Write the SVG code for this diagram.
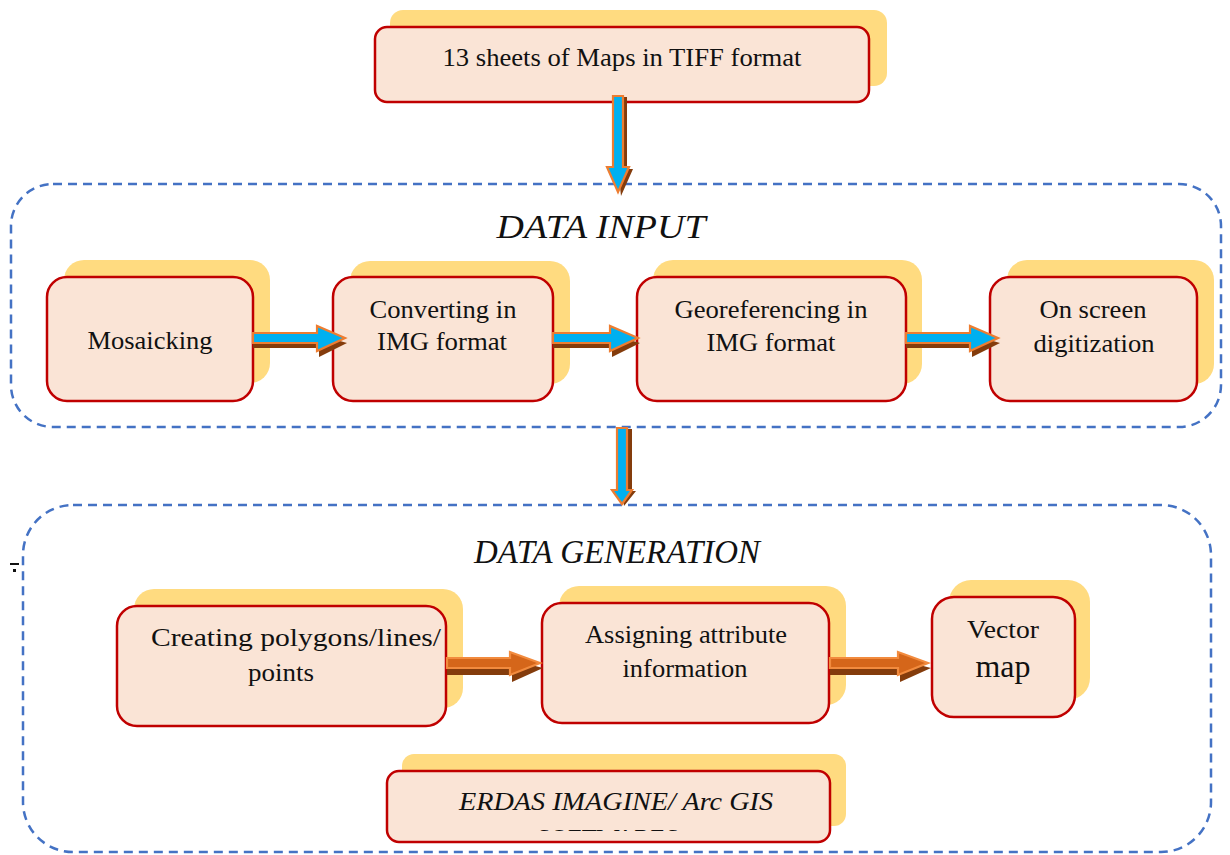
<svg xmlns="http://www.w3.org/2000/svg" width="1230" height="855" viewBox="0 0 1230 855">
<style>
.bg{fill:#ffffff}
.frame{fill:none;stroke:#4472C4;stroke-width:2.5;stroke-dasharray:9 6}
.sh{fill:#FFDB80}
.box{fill:#FAE4D6;stroke:#C00000;stroke-width:2.5}
.t{font-family:"Liberation Serif","Times New Roman",serif;font-size:26px;fill:#111;text-anchor:middle}
.ti{font-family:"Liberation Serif","Times New Roman",serif;font-size:33px;font-style:italic;fill:#111;text-anchor:middle}
.tsi{font-family:"Liberation Serif","Times New Roman",serif;font-size:26px;font-style:italic;fill:#111;text-anchor:middle}
.ab{fill:#00B0F0;stroke:#ED7D31;stroke-width:2.2;stroke-linejoin:miter}
.ao{fill:#D5661A;stroke:#F28B3E;stroke-width:2.2;stroke-linejoin:miter}
.as{fill:#843C0C}
</style>
<defs>
<clipPath id="erdasClip"><rect x="388" y="772" width="441" height="59"/></clipPath>
</defs>
<rect class="bg" x="0" y="0" width="1230" height="855"/>

<g id="frame-data-input">
<rect class="frame" x="11" y="184" width="1210" height="243" rx="42"/>
<text class="ti" x="601" y="238" textLength="209" lengthAdjust="spacingAndGlyphs">DATA INPUT</text>
</g>
<g id="frame-data-generation">
<rect class="frame" x="23" y="505" width="1188" height="347" rx="50"/>
<text class="ti" x="617" y="563" textLength="286" lengthAdjust="spacingAndGlyphs">DATA GENERATION</text>
</g>

<g id="mark">
<rect x="10" y="563" width="9" height="2" fill="#111"/>
<rect x="13" y="569" width="3" height="3" fill="#111"/>
</g>

<g id="node-tiff">
<rect class="sh" x="390" y="10" width="497" height="76" rx="13"/>
<rect class="box" x="375" y="27" width="494" height="75" rx="12"/>
<text class="t" x="622" y="66" textLength="359" lengthAdjust="spacingAndGlyphs">13 sheets of Maps in TIFF format</text>
</g>

<g id="node-mosaicking">
<rect class="sh" x="64" y="260" width="206" height="123" rx="20"/>
<rect class="box" x="47" y="277" width="206" height="124" rx="20"/>
<text class="t" x="150" y="349" textLength="125" lengthAdjust="spacingAndGlyphs">Mosaicking</text>
</g>

<g id="node-converting">
<rect class="sh" x="350" y="261" width="220" height="123" rx="20"/>
<rect class="box" x="333" y="277" width="220" height="124" rx="20"/>
<text class="t" x="443" y="318" textLength="147" lengthAdjust="spacingAndGlyphs">Converting in</text>
<text class="t" x="442" y="350" textLength="130" lengthAdjust="spacingAndGlyphs">IMG format</text>
</g>

<g id="node-georeferencing">
<rect class="sh" x="653" y="260" width="269" height="124" rx="20"/>
<rect class="box" x="637" y="277" width="269" height="124" rx="20"/>
<text class="t" x="771" y="318" textLength="193" lengthAdjust="spacingAndGlyphs">Georeferencing in</text>
<text class="t" x="771" y="351" textLength="129" lengthAdjust="spacingAndGlyphs">IMG format</text>
</g>

<g id="node-digitization">
<rect class="sh" x="1007" y="260" width="207" height="124" rx="20"/>
<rect class="box" x="990" y="277" width="207" height="124" rx="20"/>
<text class="t" x="1093" y="318" textLength="107" lengthAdjust="spacingAndGlyphs">On screen</text>
<text class="t" x="1094" y="352" textLength="121" lengthAdjust="spacingAndGlyphs">digitization</text>
</g>

<g id="node-creating">
<rect class="sh" x="134" y="589" width="329" height="119" rx="20"/>
<rect class="box" x="117" y="606" width="329" height="120" rx="20"/>
<text class="t" x="296" y="646" textLength="290" lengthAdjust="spacingAndGlyphs">Creating polygons/lines/</text>
<text class="t" x="281" y="681" textLength="66" lengthAdjust="spacingAndGlyphs">points</text>
</g>

<g id="node-assigning">
<rect class="sh" x="559" y="586" width="287" height="119" rx="20"/>
<rect class="box" x="542" y="603" width="287" height="120" rx="20"/>
<text class="t" x="686" y="643" textLength="202" lengthAdjust="spacingAndGlyphs">Assigning attribute</text>
<text class="t" x="685" y="677" textLength="125" lengthAdjust="spacingAndGlyphs">information</text>
</g>

<g id="node-vector">
<rect class="sh" x="949" y="580" width="141" height="120" rx="22"/>
<rect class="box" x="932" y="597" width="143" height="120" rx="22"/>
<text class="t" x="1003" y="638" textLength="72" lengthAdjust="spacingAndGlyphs">Vector</text>
<text class="t" x="1003" y="677" style="font-size:31px" textLength="55" lengthAdjust="spacingAndGlyphs">map</text>
</g>

<g id="node-erdas">
<rect class="sh" x="402" y="754" width="444" height="72" rx="12"/>
<rect class="box" x="387" y="771" width="443" height="71" rx="12"/>
<g clip-path="url(#erdasClip)">
<text class="tsi" x="616" y="810" textLength="314" lengthAdjust="spacingAndGlyphs">ERDAS IMAGINE/ Arc GIS</text>
<text class="t" x="608" y="847" textLength="142" lengthAdjust="spacingAndGlyphs">SOFTWARES</text>
</g>
</g>

<g id="connectors">
<path class="as" d="M622,97 h5 v72 h6 l-12,27 l-3,-27 Z"/>
<path class="ab" d="M613,96 h10 v71 h6 l-11,25 l-11,-25 h6 Z"/>
<path class="as" d="M627,429 h5 v62 h4 l-12,15 l-2,-15 Z"/>
<path class="ab" d="M617,428 h10 v62 h5 l-10,14 l-10,-14 h5 Z"/>

<path class="as" d="M253,343 h66 v-8 l28,8 l-28,14 v-9 h-66 Z"/>
<path class="ab" d="M253,333 h64 v-7 l28,12 l-28,13 v-8 h-64 Z"/>

<path class="as" d="M553,343 h59 v-8 l28,8 l-28,14 v-9 h-59 Z"/>
<path class="ab" d="M553,333 h57 v-7 l28,12 l-28,13 v-8 h-57 Z"/>

<path class="as" d="M906,343 h66 v-8 l28,8 l-28,14 v-9 h-66 Z"/>
<path class="ab" d="M906,333 h64 v-7 l28,12 l-28,13 v-8 h-64 Z"/>

<path class="as" d="M447,668 h65 v-8 l31,8 l-31,14 v-7 h-65 Z"/>
<path class="ao" d="M447,658 h63 v-6 l30,11 l-30,12 v-7 h-63 Z"/>

<path class="as" d="M830,668 h70 v-8 l31,8 l-31,14 v-7 h-70 Z"/>
<path class="ao" d="M830,658 h68 v-6 l30,11 l-30,12 v-7 h-68 Z"/>
</g>
</svg>
